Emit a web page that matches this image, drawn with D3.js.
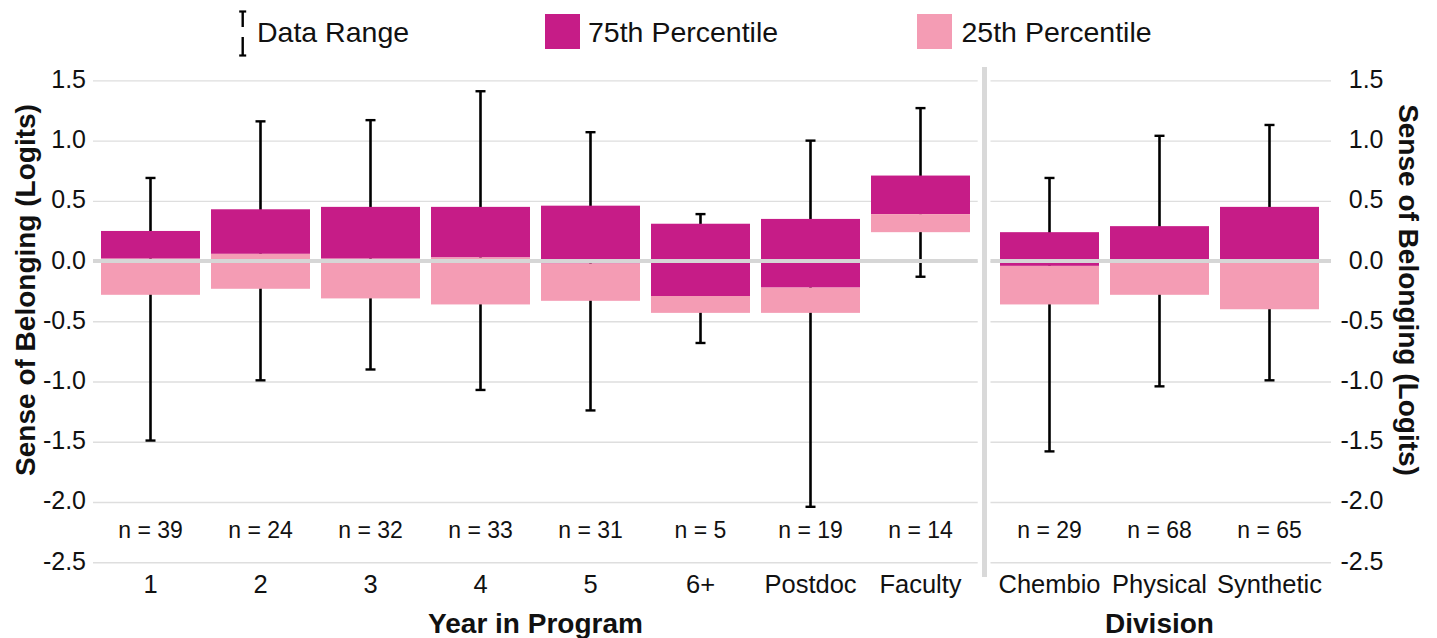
<!DOCTYPE html>
<html>
<head>
<meta charset="utf-8">
<script src="https://cdn.jsdelivr.net/npm/d3@7"></script>
<style>
  html, body { margin: 0; padding: 0; background: #fff; }
  svg { display: block; font-family: "Liberation Sans", Arial, sans-serif; }
</style>
</head>
<body>
<svg id="chart" width="1437" height="638"></svg>
<script>
// Year in program: quartile boxes and full data range
const years = ["1", "2", "3", "4", "5", "6+", "Postdoc", "Faculty"];
const yearMax    = [0.69, 1.16, 1.17, 1.41, 1.07, 0.39, 1.00, 1.27];
const yearQ3     = [0.25, 0.43, 0.45, 0.45, 0.46, 0.31, 0.35, 0.71];
const yearMedian = [0.02, 0.06, 0.02, 0.03, -0.02, -0.29, -0.22, 0.39];
const yearQ1     = [-0.28, -0.23, -0.31, -0.36, -0.33, -0.43, -0.43, 0.24];
const yearMin    = [-1.49, -0.99, -0.90, -1.07, -1.24, -0.68, -2.04, -0.13];
const yearN      = [39, 24, 32, 33, 31, 5, 19, 14];

// Division
const divisions = ["Chembio", "Physical", "Synthetic"];
const divMax    = [0.69, 1.04, 1.13];
const divQ3     = [0.24, 0.29, 0.45];
const divMedian = [-0.04, 0.01, 0.01];
const divQ1     = [-0.36, -0.28, -0.40];
const divMin    = [-1.58, -1.04, -0.99];
const divN      = [29, 68, 65];

const yTicks = [1.5, 1.0, 0.5, 0.0, -0.5, -1.0, -1.5, -2.0, -2.5];

const legendItems = ["Data Range", "75th Percentile", "25th Percentile"];
const yTitle = "Sense of Belonging (Logits)";

const DARK = "#c61c87";
const LIGHT = "#f49cb4";
const GRID = "#dedede";
const ZERO = "#d6d6d6";

// tick labels with a plain hyphen for negatives
const fmt = d => d.toFixed(1);

const svg = d3.select("#chart");

const y = d3.scaleLinear().domain([-2.5, 1.5]).range([562.2, 80.4]);

const panels = [
  {
    cats: years, max: yearMax, q3: yearQ3, med: yearMedian, q1: yearQ1, min: yearMin, n: yearN,
    range: [95.5, 975.5], grid: [93, 977.7], title: "Year in Program"
  },
  {
    cats: divisions, max: divMax, q3: divQ3, med: divMedian, q1: divQ1, min: divMin, n: divN,
    range: [994.5, 1324.5], grid: [990.5, 1331], title: "Division"
  }
];

panels.forEach(p => {
  const x = d3.scaleBand().domain(p.cats).range(p.range).paddingInner(0.1).paddingOuter(0.05);
  const rows = p.cats.map((c, i) => ({
    cat: c, max: p.max[i], q3: p.q3[i], med: p.med[i], q1: p.q1[i], min: p.min[i], n: p.n[i]
  }));
  const g = svg.append("g");

  // horizontal gridlines
  const gridAxis = d3.axisLeft(y).tickValues(yTicks).tickSize(-(p.grid[1] - p.grid[0])).tickFormat("");
  const gg = g.append("g").attr("transform", `translate(${p.grid[0]},0)`).call(gridAxis);
  gg.select(".domain").remove();
  gg.selectAll(".tick line").attr("stroke", GRID).attr("stroke-width", 1.4);

  // data range whiskers
  const cx = d => x(d.cat) + x.bandwidth() / 2;
  g.selectAll(".whisker").data(rows).enter().append("line")
    .attr("x1", cx).attr("x2", cx)
    .attr("y1", d => y(d.max)).attr("y2", d => y(d.min))
    .attr("stroke", "#000").attr("stroke-width", 2.6);
  ["max", "min"].forEach(k => {
    g.selectAll(".cap-" + k).data(rows).enter().append("line")
      .attr("x1", d => cx(d) - 5).attr("x2", d => cx(d) + 5)
      .attr("y1", d => y(d[k])).attr("y2", d => y(d[k]))
      .attr("stroke", "#000").attr("stroke-width", 2.4);
  });

  // upper (median to 75th) and lower (25th to median) boxes
  g.selectAll(".upper").data(rows).enter().append("rect")
    .attr("x", d => x(d.cat)).attr("width", x.bandwidth())
    .attr("y", d => y(d.q3)).attr("height", d => y(d.med) - y(d.q3))
    .attr("fill", DARK);
  g.selectAll(".lower").data(rows).enter().append("rect")
    .attr("x", d => x(d.cat)).attr("width", x.bandwidth())
    .attr("y", d => y(d.med)).attr("height", d => y(d.q1) - y(d.med))
    .attr("fill", LIGHT);

  // zero reference line over the boxes
  g.append("line")
    .attr("x1", p.grid[0]).attr("x2", p.grid[1])
    .attr("y1", y(0)).attr("y2", y(0))
    .attr("stroke", ZERO).attr("stroke-width", 4);

  // sample sizes
  g.selectAll(".nlab").data(rows).enter().append("text")
    .attr("x", cx).attr("y", 538)
    .attr("text-anchor", "middle").attr("font-size", 23).attr("fill", "#111")
    .text(d => `n = ${d.n}`);

  // category axis labels
  const xAxis = d3.axisBottom(x).tickSize(0).tickPadding(0);
  const xg = g.append("g").attr("transform", "translate(0,575)").call(xAxis);
  xg.select(".domain").remove();
  xg.selectAll(".tick text")
    .attr("y", 18).attr("dy", 0)
    .attr("font-size", 25.5).attr("fill", "#111")
    .attr("font-family", "Liberation Sans, Arial, sans-serif");

  // axis title
  g.append("text")
    .attr("x", (p.range[0] + p.range[1]) / 2).attr("y", 633)
    .attr("text-anchor", "middle").attr("font-size", 28).attr("font-weight", "bold")
    .attr("fill", "#111")
    .text(p.title);
});

// value axes on both sides
const leftAxis = d3.axisLeft(y).tickValues(yTicks).tickSize(0).tickPadding(0).tickFormat(fmt);
const la = svg.append("g").attr("transform", "translate(86,0)").call(leftAxis);
la.select(".domain").remove();
la.selectAll(".tick text").attr("x", 0).attr("dy", 7).attr("font-size", 25)
  .attr("fill", "#111").attr("font-family", "Liberation Sans, Arial, sans-serif");

const rightAxis = d3.axisRight(y).tickValues(yTicks).tickSize(0).tickPadding(0).tickFormat(fmt);
const ra = svg.append("g").attr("transform", "translate(1383.5,0)").call(rightAxis);
ra.select(".domain").remove();
ra.selectAll(".tick text").attr("x", 0).attr("dy", 7).attr("font-size", 25)
  .attr("text-anchor", "end")
  .attr("fill", "#111").attr("font-family", "Liberation Sans, Arial, sans-serif");

svg.append("text")
  .attr("transform", "translate(35,290) rotate(-90)")
  .attr("text-anchor", "middle").attr("font-size", 28).attr("font-weight", "bold").attr("fill", "#111")
  .text(yTitle);
svg.append("text")
  .attr("transform", "translate(1399,290) rotate(90)")
  .attr("text-anchor", "middle").attr("font-size", 28).attr("font-weight", "bold").attr("fill", "#111")
  .text(yTitle);

// panel divider
svg.append("rect").attr("x", 982).attr("y", 67).attr("width", 5).attr("height", 510).attr("fill", "#d9d9d9");

// legend
const lg = svg.append("g");
const ix = 242.7;
lg.append("line").attr("x1", ix).attr("x2", ix).attr("y1", 11).attr("y2", 27).attr("stroke", "#000").attr("stroke-width", 2.4);
lg.append("line").attr("x1", ix - 3.5).attr("x2", ix + 3.5).attr("y1", 11.5).attr("y2", 11.5).attr("stroke", "#000").attr("stroke-width", 2.2);
lg.append("line").attr("x1", ix).attr("x2", ix).attr("y1", 37).attr("y2", 56).attr("stroke", "#000").attr("stroke-width", 2.4);
lg.append("line").attr("x1", ix - 3.5).attr("x2", ix + 3.5).attr("y1", 55.5).attr("y2", 55.5).attr("stroke", "#000").attr("stroke-width", 2.2);
lg.append("rect").attr("x", 545).attr("y", 14).attr("width", 35).attr("height", 35).attr("fill", DARK);
lg.append("rect").attr("x", 917).attr("y", 14).attr("width", 35).attr("height", 35).attr("fill", LIGHT);
[[257, legendItems[0]], [588, legendItems[1]], [961.5, legendItems[2]]].forEach(([lx, t]) => {
  lg.append("text").attr("x", lx).attr("y", 42).attr("font-size", 28.5).attr("fill", "#111").text(t);
});
</script>
</body>
</html>
